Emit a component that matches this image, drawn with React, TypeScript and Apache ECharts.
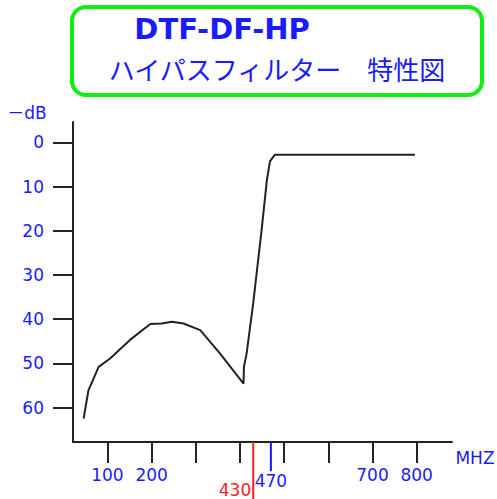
import React, { useEffect, useRef } from "react";
import * as echarts from "echarts";

// Filter response curve (frequency MHz, attenuation -dB)
const freqMHz = [46, 57, 80, 106, 151, 197, 223, 246, 272, 310, 355, 408, 409, 415, 430, 449, 461, 468, 479, 796];
const attenDb = [62.5, 56.1, 50.8, 48.9, 44.7, 41.1, 41.0, 40.6, 41.0, 42.5, 47.8, 54.6, 50.8, 47.8, 36.4, 19.8, 8.5, 4.3, 2.8, 2.8];

const yTickValues = [0, 10, 20, 30, 40, 50, 60];
const xTickValues = [100, 200, 300, 400, 500, 600, 700, 800];
const xLabelValues = [100, 200, 700, 800];

const cutoffFreq = 430; // red marker
const passFreq = 470; // blue marker

const titleText = "DTF-DF-HP";
const subtitleText = "ハイパスフィルター　特性図";
const yUnitText = "－dB";
const xUnitText = "MHZ";

const BLUE = "#1a1aff";
const RED = "#ff2020";
const INK = "#222222";
const GREEN = "#11ee11";

export default function App() {
  const ref = useRef<HTMLDivElement>(null);
  useEffect(() => {
    document.body.style.margin = "0";
    const chart = echarts.init(ref.current!, null, { renderer: "svg" });
    const Y_MIN = -4.6;
    const Y_MAX = 67.8;
    const option: any = {
      animation: false,
      backgroundColor: "#ffffff",
      grid: { left: 73, right: 45, top: 122, bottom: 57, containLabel: false },
      xAxis: {
        type: "value",
        min: 22,
        max: 880,
        axisLine: { show: true, onZero: false, lineStyle: { color: INK, width: 2 } },
        axisTick: { show: true, length: 21, customValues: xTickValues, lineStyle: { color: INK, width: 2 } },
        axisLabel: {
          show: true,
          customValues: xLabelValues,
          margin: 24,
          color: BLUE,
          fontSize: 17,
          fontFamily: "DejaVu Sans",
        },
        splitLine: { show: false },
      },
      yAxis: {
        type: "value",
        inverse: true,
        min: Y_MIN,
        max: Y_MAX,
        axisLine: { show: true, onZero: false, lineStyle: { color: INK, width: 2 } },
        axisTick: { show: true, length: 20, customValues: yTickValues, lineStyle: { color: INK, width: 2 } },
        axisLabel: {
          show: true,
          customValues: yTickValues,
          margin: 29,
          color: BLUE,
          fontSize: 17,
          fontFamily: "DejaVu Sans",
        },
        splitLine: { show: false },
      },
      series: [
        {
          type: "line",
          data: freqMHz.map((f, i) => [f, attenDb[i]]),
          showSymbol: false,
          smooth: false,
          silent: true,
          lineStyle: { color: INK, width: 2 },
        },
        {
          type: "line",
          clip: false,
          silent: true,
          symbolSize: 0,
          showSymbol: true,
          lineStyle: { color: RED, width: 2 },
          itemStyle: { color: RED },
          data: [
            { value: [cutoffFreq, Y_MAX] },
            {
              value: [cutoffFreq, 81],
              label: {
                show: true,
                formatter: String(cutoffFreq),
                position: "left",
                distance: 2,
                offset: [0, -10],
                color: RED,
                fontSize: 17,
                fontFamily: "DejaVu Sans",
              },
            },
          ],
        },
        {
          type: "line",
          clip: false,
          silent: true,
          symbolSize: 0,
          showSymbol: true,
          lineStyle: { color: BLUE, width: 2 },
          itemStyle: { color: BLUE },
          data: [
            { value: [passFreq, Y_MAX] },
            {
              value: [passFreq, 74.4],
              label: {
                show: true,
                formatter: String(passFreq),
                position: "bottom",
                distance: 1,
                color: BLUE,
                fontSize: 17,
                fontFamily: "DejaVu Sans",
              },
            },
          ],
        },
      ],
      graphic: [
        {
          type: "rect",
          shape: { x: 72, y: 7, width: 410, height: 88, r: 14 },
          style: { fill: "none", stroke: GREEN, lineWidth: 4 },
        },
        {
          type: "text",
          x: 222,
          y: 29,
          style: {
            text: titleText,
            fill: BLUE,
            font: "bold 29px 'DejaVu Sans'",
            textAlign: "center",
            textVerticalAlign: "middle",
          },
        },
        {
          type: "text",
          x: 277,
          y: 68,
          style: {
            text: subtitleText,
            fill: BLUE,
            font: "26px 'Noto Sans CJK JP'",
            textAlign: "center",
            textVerticalAlign: "middle",
          },
        },
        {
          type: "text",
          x: 27,
          y: 113,
          style: {
            text: yUnitText,
            fill: BLUE,
            font: "17px 'DejaVu Sans', 'Noto Sans CJK JP'",
            textAlign: "center",
            textVerticalAlign: "middle",
          },
        },
        {
          type: "text",
          x: 475,
          y: 458,
          style: {
            text: xUnitText,
            fill: BLUE,
            font: "17px 'DejaVu Sans'",
            textAlign: "center",
            textVerticalAlign: "middle",
          },
        },
      ],
    };
    chart.setOption(option);
    return () => chart.dispose();
  }, []);
  return <div ref={ref} style={{ width: 497, height: 499 }} />;
}
